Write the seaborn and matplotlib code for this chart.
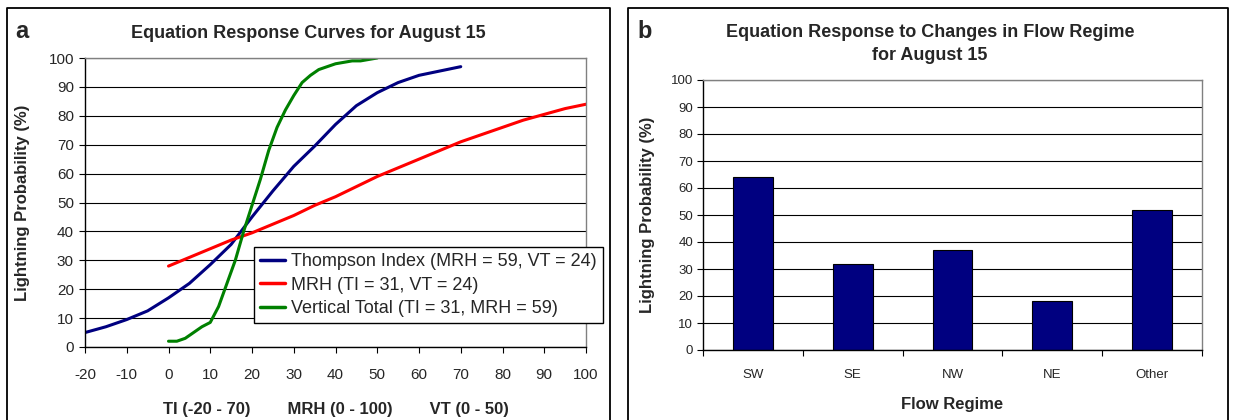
import numpy as np
import pandas as pd
import matplotlib
matplotlib.use("Agg")
import matplotlib.pyplot as plt
from matplotlib.lines import Line2D
import seaborn as sns

# ---------------- data ----------------
ti_x = [-20, -15, -10, -5, 0, 5, 10, 15, 20, 25, 30, 35, 40, 45, 50, 55, 60, 65, 70]
ti_p = [5, 7, 9.5, 12.5, 17, 22, 28.5, 35.5, 45, 54, 62.5, 69.5, 77, 83.5, 88, 91.5, 94, 95.5, 97]

mrh_x = [0, 5, 10, 15, 20, 25, 30, 35, 40, 45, 50, 55, 60, 65, 70, 75, 80, 85, 90, 95, 100]
mrh_p = [28, 31, 34, 37, 39.5, 42.5, 45.5, 49, 52, 55.5, 59, 62, 65, 68, 71, 73.5, 76, 78.5, 80.5, 82.5, 84]

vt_x = [0, 2, 4, 6, 8, 10, 12, 14, 16, 18, 20, 22, 24, 26, 28, 30, 32, 34, 36, 38, 40, 42, 44, 46, 48, 50]
vt_p = [2, 2, 3, 5, 7, 8.5, 14, 22, 30, 40, 49, 58, 68, 76, 82, 87, 91.5, 94, 96, 97, 98, 98.5, 99, 99, 99.5, 100]

series_names = ["Thompson Index (MRH = 59, VT = 24)",
                "MRH (TI = 31, VT = 24)",
                "Vertical Total (TI = 31, MRH = 59)"]
series_colors = ["#000080", "#FF0000", "#008000"]

regimes = ["SW", "SE", "NW", "NE", "Other"]
regime_p = [64, 32, 37, 18, 52]

x_ticks = list(range(-20, 101, 10))
y_ticks = list(range(0, 101, 10))

# ---------------- style ----------------
sns.set_style("white")
plt.rcParams["font.family"] = ["Liberation Sans", "DejaVu Sans"]

W, H = 1233, 420
fig = plt.figure(figsize=(W / 100, H / 100), dpi=100)

def fx(px):
    return px / W

def fy(py):
    return 1 - py / H

ax1 = fig.add_axes([fx(85), fy(347), 501 / W, 289 / H])
ax2 = fig.add_axes([fx(703), fy(350), 499 / W, 270 / H])

# panel frames (left, top, right sides)
for (l, r) in [(7, 610), (628, 1228)]:
    fig.add_artist(Line2D([fx(l), fx(l), fx(r), fx(r)], [fy(430), fy(8), fy(8), fy(430)],
                          transform=fig.transFigure, color="black", lw=1.3))

# ---------------- panel a ----------------
df = pd.concat([
    pd.DataFrame({"x": ti_x, "p": ti_p, "series": series_names[0]}),
    pd.DataFrame({"x": mrh_x, "p": mrh_p, "series": series_names[1]}),
    pd.DataFrame({"x": vt_x, "p": vt_p, "series": series_names[2]}),
], ignore_index=True)

sns.lineplot(data=df, x="x", y="p", hue="series", hue_order=series_names,
             palette=series_colors, estimator=None, sort=False, lw=2.2, ax=ax1)

ax1.set_xlim(-20, 100)
ax1.set_ylim(0, 100)
ax1.set_xticks(x_ticks)
ax1.set_yticks(y_ticks)
ax1.set_xticklabels([str(v) for v in x_ticks])
ax1.tick_params(axis="both", labelsize=11, length=4, width=0.8, color="black",
                direction="out", left=True, bottom=True)
ax1.tick_params(axis="x", pad=11)
ax1.tick_params(axis="y", pad=4)
ax1.yaxis.grid(True, color="black", lw=0.8)
ax1.set_axisbelow(True)
for s in ["left", "bottom"]:
    ax1.spines[s].set_color("black")
    ax1.spines[s].set_linewidth(1.0)
for s in ["top", "right"]:
    ax1.spines[s].set_color("#808080")
    ax1.spines[s].set_linewidth(1.0)
ax1.set_ylabel("Lightning Probability (%)", fontsize=12, fontweight="bold")
ax1.yaxis.set_label_coords(-0.11, 0.5)
ax1.set_xlabel("TI (-20 - 70)        MRH (0 - 100)        VT (0 - 50)",
               fontsize=12, fontweight="bold")
ax1.xaxis.set_label_coords(0.5, -0.19)

handles, labels = ax1.get_legend_handles_labels()
leg = ax1.legend(handles, labels, loc="upper left", bbox_to_anchor=(0.337, 0.346),
                 borderaxespad=0, fontsize=13, frameon=True, fancybox=False,
                 edgecolor="black", framealpha=1, handlelength=1.4, handletextpad=0.3,
                 borderpad=0.35, labelspacing=0.35)
leg.get_frame().set_linewidth(1.0)
for line in leg.get_lines():
    line.set_linewidth(2.5)

fig.text(fx(308), fy(33), "Equation Response Curves for August 15", ha="center", va="center",
         fontsize=13, fontweight="bold")
fig.text(fx(15), fy(38), "a", ha="left", va="baseline", fontsize=17, fontweight="bold")

# ---------------- panel b ----------------
bdf = pd.DataFrame({"regime": regimes, "p": regime_p})
sns.barplot(data=bdf, x="regime", y="p", order=regimes, color="#000080", saturation=1,
            width=0.4, edgecolor="black", linewidth=0.8, ax=ax2)
ax2.set_xlim(-0.5, 4.5)
ax2.set_ylim(0, 100)
ax2.set_yticks(y_ticks)
ax2.set_xticks(range(len(regimes)))
ax2.set_xticklabels(regimes)
ax2.set_xticks(np.arange(-0.5, len(regimes), 1.0), minor=True)
ax2.tick_params(axis="x", which="major", length=0, labelsize=9.5, pad=14)
ax2.tick_params(axis="x", which="minor", length=4, width=0.8, color="black", direction="out",
                bottom=True)
ax2.tick_params(axis="y", labelsize=9.5, length=4, width=0.8, color="black", direction="out",
                left=True, pad=3)
ax2.yaxis.grid(True, color="black", lw=0.8)
ax2.set_axisbelow(True)
for s in ["left", "bottom"]:
    ax2.spines[s].set_color("black")
    ax2.spines[s].set_linewidth(1.0)
for s in ["top", "right"]:
    ax2.spines[s].set_color("#808080")
    ax2.spines[s].set_linewidth(1.0)
ax2.set_ylabel("Lightning Probability (%)", fontsize=12, fontweight="bold")
ax2.yaxis.set_label_coords(-0.096, 0.5)
ax2.set_xlabel("Flow Regime", fontsize=12, fontweight="bold")
ax2.xaxis.set_label_coords(0.5, -0.174)

fig.text(fx(930), fy(44), "Equation Response to Changes in Flow Regime\nfor August 15",
         ha="center", va="center", fontsize=13, fontweight="bold", linespacing=1.45)
fig.text(fx(637), fy(38), "b", ha="left", va="baseline", fontsize=17, fontweight="bold")

fig.savefig("out.png", dpi=100, facecolor="white")
